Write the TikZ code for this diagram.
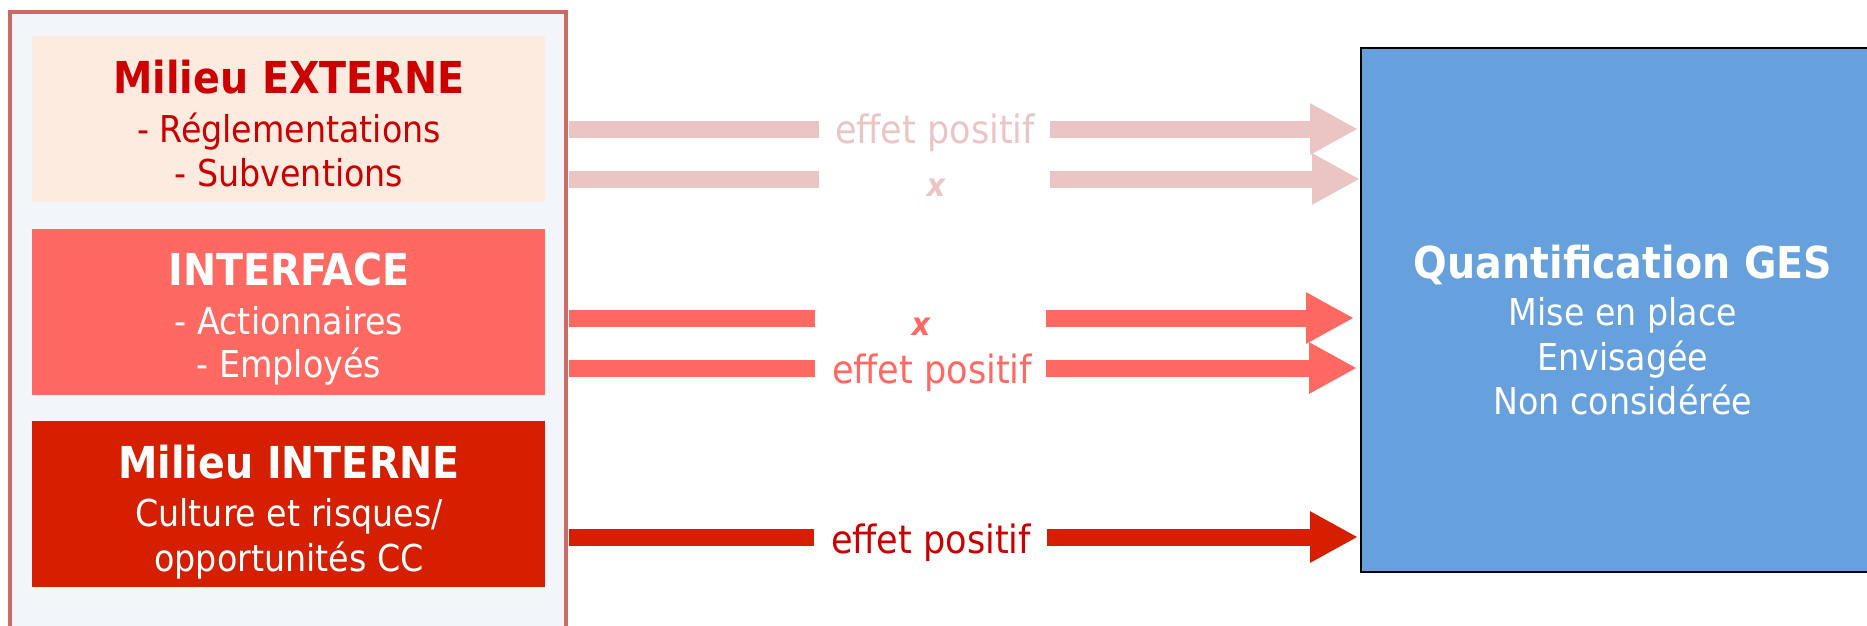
\documentclass[tikz,border=0pt]{standalone}
\usepackage{fontspec}
\setmainfont{DejaVu Sans Condensed}
\usetikzlibrary{arrows.meta}
\definecolor{outerfill}{HTML}{F2F5FA}
\definecolor{outerline}{HTML}{CD6A64}
\definecolor{peach}{HTML}{FDEBDF}
\definecolor{salmon}{HTML}{FF6962}
\definecolor{deepred}{HTML}{D61F00}
\definecolor{darktxt}{HTML}{CC0000}
\definecolor{pinkarrow}{HTML}{EBC4C4}
\definecolor{gesblue}{HTML}{66A1DD}
\tikzset{
  panel/.style={minimum width=513pt, minimum height=166pt, inner sep=0pt, anchor=north west, draw=none},
  ttl/.style={font=\bfseries\fontsize{44}{48}\selectfont, text height=32pt, text depth=0pt, inner sep=0pt},
  sub/.style={font=\fontsize{37}{40}\selectfont, text height=27pt, text depth=0pt, inner sep=0pt},
  lbl/.style={font=\fontsize{39}{42}\selectfont, text height=28pt, text depth=0pt, inner sep=0pt},
  cross/.style={font=\bfseries\itshape\fontsize{32}{40}\selectfont, text height=18pt, text depth=0pt, inner sep=0pt},
  shaft/.style={line width=17pt},
  headed/.style={line width=17pt, -{Triangle[length=48pt,width=48pt]}}
}
\begin{document}
\begin{tikzpicture}[x=1pt,y=-1pt]
\useasboundingbox (0,0) rectangle (1867,625);
% outer container
\node[anchor=north west, minimum width=556pt, minimum height=620pt, inner sep=0pt, fill=outerfill] (src) at (10,12) {};
\draw[outerline, line width=4pt] (src.south west) -- (src.north west) -- (src.north east) -- (src.south east);
% three panels
\node[panel, fill=peach] (ext) at (32,36) {};
\node[panel, fill=salmon] (itf) at (32,229) {};
\node[panel, fill=deepred] (int) at (32,421) {};
% panel texts
\node[ttl, text=darktxt] (extT) at (289,77) {Milieu EXTERNE};
\node[sub, text=darktxt] (extA) at (289,129) {- Réglementations};
\node[sub, text=darktxt] (extB) at (289,173) {- Subventions};
\node[ttl, text=white] (itfT) at (289,269) {INTERFACE};
\node[sub, text=white] (itfA) at (289,321) {- Actionnaires};
\node[sub, text=white] (itfB) at (289,364) {- Employés};
\node[ttl, text=white] (intT) at (289,462) {Milieu INTERNE};
\node[sub, text=white] (intA) at (289,513) {Culture et risques/};
\node[sub, text=white] (intB) at (289,558) {opportunités CC};
% right box
\node[anchor=north west, minimum width=520pt, minimum height=524pt, inner sep=0pt, fill=gesblue] (ges) at (1361,48) {};
\draw[black, line width=2pt] (ges.north east) -- (ges.north west) -- (ges.south west) -- (ges.south east);
\node[ttl, text=white] (gesT) at (1623,262) {Quantification GES};
\node[sub, text=white] (gesA) at (1623,312) {Mise en place};
\node[sub, text=white] (gesB) at (1623,357) {Envisagée};
\node[sub, text=white] (gesC) at (1623,401) {Non considérée};
% arrow coordinates
\coordinate (r1a) at (569,129); \coordinate (r1b) at (819,129); \coordinate (r1c) at (1050,129); \coordinate (r1d) at (1358,129);
\coordinate (r2a) at (569,179); \coordinate (r2b) at (819,179); \coordinate (r2c) at (1050,179); \coordinate (r2d) at (1360,179);
\coordinate (r3a) at (569,318); \coordinate (r3b) at (815,318); \coordinate (r3c) at (1046,318); \coordinate (r3d) at (1354,318);
\coordinate (r4a) at (569,368); \coordinate (r4b) at (815,368); \coordinate (r4c) at (1046,368); \coordinate (r4d) at (1357,368);
\coordinate (r5a) at (569,537); \coordinate (r5b) at (814,537); \coordinate (r5c) at (1047,537); \coordinate (r5d) at (1358,537);
% arrows
\draw[shaft, pinkarrow] (r1a) -- (r1b); \draw[headed, pinkarrow] (r1c) -- (r1d);
\draw[shaft, pinkarrow] (r2a) -- (r2b); \draw[headed, pinkarrow] (r2c) -- (r2d);
\draw[shaft, salmon] (r3a) -- (r3b); \draw[headed, salmon] (r3c) -- (r3d);
\draw[shaft, salmon] (r4a) -- (r4b); \draw[headed, salmon] (r4c) -- (r4d);
\draw[shaft, deepred] (r5a) -- (r5b); \draw[headed, deepred] (r5c) -- (r5d);
% labels
\node[lbl, text=pinkarrow] (l1) at (935,129) {effet positif};
\node[cross, text=pinkarrow] (l2) at (936,187) {x};
\node[cross, text=salmon] (l3) at (921,326) {x};
\node[lbl, text=salmon] (l4) at (932,369) {effet positif};
\node[lbl, text=darktxt] (l5) at (931,539) {effet positif};
\end{tikzpicture}
\end{document}
